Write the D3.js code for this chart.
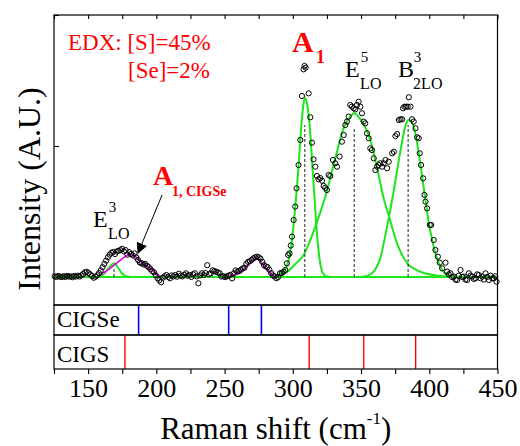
<!DOCTYPE html>
<html>
<head>
<meta charset="utf-8">
<script src="https://cdn.jsdelivr.net/npm/d3@7"></script>
<style>
  body { margin: 0; background: #fff; }
</style>
</head>
<body>
<div id="raman-chart"></div>
<script>
var measShift = [125.5,126.8,128.1,129.4,130.7,132.0,133.3,134.6,135.9,137.2,138.5,139.8,141.1,142.4,143.7,145.0,146.3,147.6,148.9,150.2,
    151.5,152.8,154.1,155.4,156.7,158.0,159.3,160.6,161.9,163.2,164.5,165.8,167.1,168.4,169.7,171.0,172.3,173.6,174.9,176.2,
    177.5,178.8,180.1,181.4,182.7,184.0,185.3,186.6,187.9,189.2,190.5,191.8,193.1,194.4,195.7,197.0,198.3,199.6,200.9,202.2,
    203.5,204.8,206.1,207.4,208.7,210.0,211.3,212.6,213.9,215.2,216.5,217.8,219.1,220.4,221.7,223.0,224.3,225.6,226.9,228.2,
    229.5,230.8,232.1,233.4,234.7,236.0,237.3,238.6,239.9,241.2,242.5,243.8,245.1,246.4,247.7,249.0,250.3,251.6,252.9,254.2,
    255.5,256.8,258.1,259.4,260.7,262.0,263.3,264.6,265.9,267.2,268.5,269.8,271.1,272.4,273.7,275.0,276.3,277.6,278.9,280.2,
    281.5,282.8,284.1,285.4,286.7,288.0,289.3,290.6,291.9,293.2,294.5,295.7,296.6,297.6,298.5,299.4,300.6,301.8,302.7,304.2,
    305.5,306.7,307.9,308.6,309.4,311.6,312.8,314.0,315.2,316.5,317.7,318.9,320.1,321.4,322.6,323.8,325.0,326.3,327.5,329.4,
    331.1,332.4,334.3,336.0,337.3,338.5,339.7,340.9,342.1,343.3,344.6,345.8,347.0,348.2,349.5,350.7,351.9,353.1,354.4,355.6,
    356.8,358.0,359.3,360.5,361.7,362.9,364.1,365.4,366.6,367.9,369.1,370.3,372.8,374.0,375.2,376.4,377.7,378.9,380.1,380.8,
    381.8,383.0,384.2,385.0,386.2,387.4,388.6,389.9,391.1,392.3,393.0,394.0,395.5,396.5,397.2,398.4,400.4,401.4,403.3,404.5,
    406.3,407.7,409.4,411.9,413.1,414.3,415.5,416.7,418.0,419.2,420.4,421.6,422.9,424.1,425.3,426.5,427.8,429.0,430.2,431.4,
    432.6,433.9,435.1,436.3,437.5,438.8,440.0,441.2,442.4,443.7,445.0,446.2,447.3,448.3,449.3];
var measInt = [0.005,0.0,0.008,0.002,0.0,0.006,0.0,0.008,0.003,0.005,-0.002,0.008,0.003,0.01,0.004,0.012,0.022,0.035,0.04,0.03,
    0.02,0.008,-0.006,0.002,0.012,0.03,0.05,0.075,0.1,0.125,0.15,0.17,0.185,0.19,0.175,0.195,0.2,0.205,0.215,0.195,
    0.205,0.17,0.19,0.175,0.165,0.18,0.15,0.13,0.11,0.105,0.095,0.1,0.085,0.075,0.06,0.045,0.035,0.012,-0.01,-0.025,
    -0.04,-0.005,0.005,0.015,0.0,-0.01,0.012,0.004,0.015,0.002,0.025,0.01,0.004,0.016,0.028,0.01,0.016,0.0,0.02,0.028,
    0.005,-0.048,0.012,0.028,0.015,0.03,0.09,0.02,0.028,0.05,0.045,0.04,0.035,0.028,0.003,0.006,0.0,0.004,0.01,0.016,
    -0.01,0.028,0.05,0.04,0.045,0.055,0.065,0.07,0.1,0.115,0.12,0.13,0.142,0.15,0.155,0.15,0.14,0.115,0.09,0.08,
    0.075,0.055,0.03,0.012,0.004,-0.01,0.0,0.028,0.03,0.04,0.053,0.104,0.168,0.18,0.24,0.308,0.435,0.537,0.677,0.855,
    1.046,1.382,1.585,1.611,1.598,1.402,1.219,1.025,0.898,0.842,0.771,0.746,0.755,0.735,0.695,0.68,0.664,0.779,0.771,0.893,
    0.868,0.842,0.919,1.033,1.084,1.16,1.186,1.224,1.313,1.3,1.288,1.28,1.313,1.338,1.3,1.25,1.186,1.173,1.097,1.059,
    0.982,0.969,0.906,0.817,0.842,0.855,0.868,0.842,0.868,0.893,0.83,0.88,0.944,0.956,1.076,1.091,1.198,1.204,1.204,1.288,
    1.3,1.3,1.3,1.372,1.3,1.204,1.186,1.135,1.066,1.059,0.944,0.855,0.753,0.626,0.575,0.524,0.397,0.397,0.282,0.206,
    0.155,0.109,0.066,0.109,0.041,0.02,0.028,0.0,0.003,-0.02,-0.023,0.01,0.053,0.0,0.003,-0.02,-0.023,0.028,0.01,0.003,
    -0.015,-0.01,0.02,0.015,-0.01,0.003,-0.02,0.028,0.0,-0.023,0.01,-0.01,-0.01,0.005,-0.036];

// fitted components as [shift, intensity]
var fitBase = [[125, 0], [450, 0]];
var fitE3 = [[156, 0], [160, 0.01], [163, 0.04], [166, 0.08], [169, 0.104], [172, 0.07], [175, 0.025], [178, 0.005], [181, 0]];
var fitA1 = [[286, 0], [293.2, 0.041], [296.9, 0.13], [299.4, 0.28], [301.8, 0.537], [304.2, 0.842], [306, 1.122], [307.9, 1.326],
    [309.1, 1.364], [310.8, 1.3], [312.8, 1.097], [314.5, 0.817], [316, 0.588], [317.7, 0.333], [319.7, 0.13], [322.1, 0.028], [325, 0.003], [328, 0]];
var fitE5 = [[283, 0], [290, 0.01], [296, 0.04], [302, 0.1], [308, 0.17], [312, 0.26], [316.5, 0.384], [324, 0.62], [331, 0.9],
    [337, 1.13], [342, 1.224], [345, 1.25], [349.5, 1.205], [356.8, 1.046], [362, 0.82], [366.6, 0.6], [370.3, 0.47], [376.4, 0.257],
    [383.8, 0.105], [393.5, 0.04], [408, 0.008], [420, 0]];
var fitB2 = [[350, 0], [355, 0.01], [360, 0.05], [364, 0.14], [369, 0.38], [374, 0.66], [379, 0.97], [383, 1.17], [385, 1.198],
    [388.6, 1.147], [392.3, 0.944], [394.8, 0.766], [397.2, 0.588], [399.7, 0.41], [402.1, 0.283], [404.5, 0.181], [407, 0.104],
    [409.4, 0.053], [413.1, 0.015], [418, 0.003], [425, 0]];
var fitCIGSe1 = [[157, 0.005], [159.2, 0.018], [166.6, 0.069], [173.9, 0.13], [180, 0.168], [184, 0.16], [188.6, 0.117],
    [193.5, 0.079], [198.3, 0.041], [202, 0.008], [204, 0]];
var fitCIGSe2 = [[254, 0.005], [256.5, 0.015], [261.4, 0.04], [266.3, 0.079], [271.2, 0.13], [274.2, 0.142], [277.3, 0.104],
    [281, 0.059], [284.7, 0.015], [287.1, 0.003]];

// dashed peak markers [shift, top]
var peakMarks = [[169, 0.06], [308.8, 1.16], [345, 1.135], [384.5, 1.16]];

// reference mode positions
var cigseModes = [187, 253, 277];
var cigsModes = [177, 312, 352, 390];

var xTicks = [150, 200, 250, 300, 350, 400, 450];
var xMinorTicks = [125, 150, 175, 200, 225, 250, 275, 300, 325, 350, 375, 400, 425, 450];

var width = 520, height = 446;
var left = 54, right = 497.5;
var mainTop = 15, mainBottom = 305, seBottom = 335, sBottom = 369;
var green = "#1de61d", magenta = "#e400e4";
var face = "Liberation Serif";

var svg = d3.select("#raman-chart").append("svg")
    .attr("width", width)
    .attr("height", height);

var x = d3.scaleLinear().domain([125, 450]).range([left, right]);
var y = d3.scaleLinear().domain([-0.214, 2]).range([mainBottom, mainTop]);

var line = d3.line()
    .x(function (d) { return x(d[0]); })
    .y(function (d) { return y(d[1]); })
    .curve(d3.curveMonotoneX);

// fits
var fits = svg.append("g");
[fitBase, fitE3, fitA1, fitE5, fitB2].forEach(function (f) {
    fits.append("path").datum(f)
        .attr("d", line)
        .attr("fill", "none")
        .attr("stroke", green)
        .attr("stroke-width", 2);
});
[fitCIGSe1, fitCIGSe2].forEach(function (f) {
    fits.append("path").datum(f)
        .attr("d", line)
        .attr("fill", "none")
        .attr("stroke", magenta)
        .attr("stroke-width", 1.6);
});

svg.append("g").selectAll("line").data(peakMarks).enter().append("line")
    .attr("x1", function (d) { return x(d[0]); })
    .attr("x2", function (d) { return x(d[0]); })
    .attr("y1", y(0))
    .attr("y2", function (d) { return y(d[1]); })
    .attr("stroke", "#222")
    .attr("stroke-width", 1)
    .attr("stroke-dasharray", "3,2");

// measured points
svg.append("g").selectAll("circle").data(measShift).enter().append("circle")
    .attr("cx", function (d) { return x(d); })
    .attr("cy", function (d, i) { return y(measInt[i]); })
    .attr("r", 2.6)
    .attr("fill", "none")
    .attr("stroke", "#000")
    .attr("stroke-width", 1);

// reference bars
svg.append("g").selectAll("line").data(cigseModes).enter().append("line")
    .attr("x1", function (d) { return x(d); })
    .attr("x2", function (d) { return x(d); })
    .attr("y1", mainBottom).attr("y2", seBottom)
    .attr("stroke", "#0000ff").attr("stroke-width", 1.6);
svg.append("g").selectAll("line").data(cigsModes).enter().append("line")
    .attr("x1", function (d) { return x(d); })
    .attr("x2", function (d) { return x(d); })
    .attr("y1", seBottom).attr("y2", sBottom)
    .attr("stroke", "#ff0000").attr("stroke-width", 1.4);

// frames
[[mainTop, mainBottom], [mainBottom, seBottom], [seBottom, sBottom]].forEach(function (p) {
    svg.append("rect")
        .attr("x", left).attr("y", p[0])
        .attr("width", right - left).attr("height", p[1] - p[0])
        .attr("fill", "none").attr("stroke", "#000").attr("stroke-width", 1.2);
});

// axes
var xAxis = svg.append("g")
    .attr("transform", "translate(0," + sBottom + ")")
    .call(d3.axisBottom(x).tickValues(xMinorTicks).tickSize(5).tickPadding(5)
        .tickFormat(function (d) { return xTicks.indexOf(d) >= 0 ? d : ""; }));
xAxis.attr("font-size", 26).attr("font-family", face);
xAxis.select(".domain").remove();
xAxis.selectAll("text").attr("fill", "#000");

var topAxis = svg.append("g")
    .attr("transform", "translate(0," + mainTop + ")")
    .call(d3.axisTop(x).tickValues(xMinorTicks).tickSize(-4).tickFormat(""));
topAxis.select(".domain").remove();

var yAxis = svg.append("g")
    .attr("transform", "translate(" + left + ",0)")
    .call(d3.axisLeft(y).tickValues([1, 2]).tickSize(-5).tickFormat(""));
yAxis.select(".domain").remove();

svg.selectAll(".tick line").attr("stroke", "#000").attr("stroke-width", 1.1);

// axis titles
var xt = svg.append("text")
    .attr("x", (left + right) / 2).attr("y", 439)
    .attr("text-anchor", "middle").attr("font-size", 31);
xt.append("tspan").text("Raman shift (cm");
xt.append("tspan").attr("font-size", 17).attr("dy", -15).text("-1");
xt.append("tspan").attr("dy", 15).text(")");

svg.append("text")
    .attr("transform", "translate(40,189) rotate(-90)")
    .attr("text-anchor", "middle").attr("font-size", 32)
    .text("Intensity (A.U.)");

// panel labels
svg.append("text").attr("x", 57).attr("y", 327).attr("font-size", 23).text("CIGSe");
svg.append("text").attr("x", 57).attr("y", 362).attr("font-size", 23).text("CIGS");

// composition note
svg.append("text").attr("x", 68).attr("y", 50).attr("font-size", 23).attr("fill", "#ff0000").text("EDX: [S]=45%");
svg.append("text").attr("x", 128).attr("y", 78).attr("font-size", 23).attr("fill", "#ff0000").text("[Se]=2%");

// mode labels: base letter, superscript, subscript
function modeLabel(px, py, base, sup, sub, size) {
    svg.append("text").attr("x", px).attr("y", py).attr("font-size", size).text(base);
    if (sup) svg.append("text").attr("x", px + size * 0.66).attr("y", py - 15).attr("font-size", 15).text(sup);
    svg.append("text").attr("x", px + size * 0.63).attr("y", py + 12).attr("font-size", 16).text(sub);
}
modeLabel(93, 227, "E", "3", "LO", 24);
modeLabel(345, 77, "E", "5", "LO", 24);
modeLabel(398, 77, "B", "3", "2LO", 24);

svg.append("text").attr("x", 292).attr("y", 52).attr("font-size", 30).attr("font-weight", "bold")
    .attr("fill", "#ff0000").text("A");
svg.append("text").attr("x", 316).attr("y", 63).attr("font-size", 18).attr("font-weight", "bold")
    .attr("fill", "#ff0000").text("1");
svg.append("text").attr("x", 153).attr("y", 185).attr("font-size", 28).attr("font-weight", "bold")
    .attr("fill", "#ff0000").text("A");
svg.append("text").attr("x", 172).attr("y", 196).attr("font-size", 14).attr("font-weight", "bold")
    .attr("fill", "#ff0000").text("1, CIGSe");

// arrow to the CIGSe A1 band
svg.append("defs").append("marker")
    .attr("id", "head")
    .attr("viewBox", "0 0 10 10")
    .attr("refX", 9).attr("refY", 5)
    .attr("markerWidth", 11).attr("markerHeight", 11)
    .attr("markerUnits", "userSpaceOnUse")
    .attr("orient", "auto")
    .append("path").attr("d", "M0,0 L10,5 L0,10 Z").attr("fill", "#000");
svg.append("line")
    .attr("x1", x(204.2)).attr("y1", y(0.626))
    .attr("x2", x(186.6)).attr("y2", y(0.183))
    .attr("stroke", "#000").attr("stroke-width", 1)
    .attr("marker-end", "url(#head)");

// serif face for every label
svg.selectAll("text").attr("font-family", face);
</script>
</body>
</html>
